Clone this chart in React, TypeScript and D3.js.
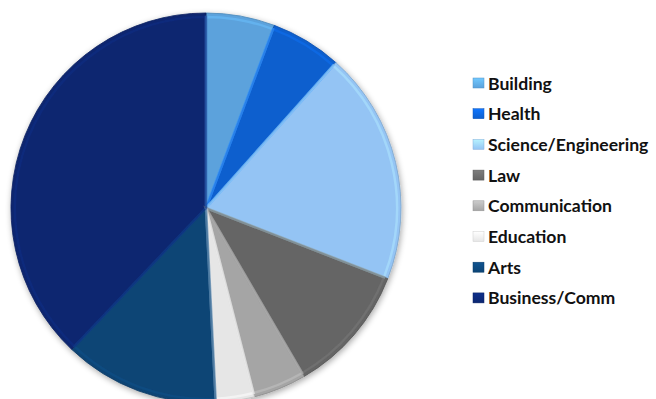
import React from "react";
import * as d3 from "d3";

const categories = ["Building", "Health", "Science/Engineering", "Law", "Communication", "Education", "Arts", "Business/Comm"];
const values = [5.7, 5.9, 19.3, 10.7, 4.4, 3.2, 12.9, 37.9];
const colors = ["#5ba2dc", "#0d5fce", "#94c4f4", "#656565", "#a5a5a5", "#e6e6e6", "#0c4475", "#0b2670"];

const W = 656;
const H = 399;
const cx = 206;
const cy = 208;
const R = 195;

export default function App() {
  const pie = d3.pie<number>().sort(null).value((d) => d);
  const arcs = pie(values);
  const arc = d3.arc<d3.PieArcDatum<number>>().innerRadius(0).outerRadius(R);
  const inner = d3.arc<d3.PieArcDatum<number>>().innerRadius(0).outerRadius(R - 4);
  const legendX = 473;
  const legendY0 = 83;
  const legendStep = 30.7;
  return (
    <div style={{ position: "absolute", left: 0, top: 0 }}>
      <svg width={W} height={H} style={{ display: "block", background: "#fff" }}>
        <defs>
          <filter id="shadow" x="-10%" y="-10%" width="120%" height="120%">
            <feGaussianBlur in="SourceAlpha" stdDeviation="3" />
            <feOffset dx="1" dy="2" result="b" />
            <feComponentTransfer>
              <feFuncA type="linear" slope="0.35" />
            </feComponentTransfer>
            <feMerge>
              <feMergeNode />
              <feMergeNode in="SourceGraphic" />
            </feMerge>
          </filter>
          {colors.map((c, i) => (
            <linearGradient key={i} id={`lg${i}`} x1="0" y1="0" x2="0" y2="1">
              <stop offset="0" stopColor={d3.color(c)!.brighter(0.6).formatHex()} />
              <stop offset="1" stopColor={c} />
            </linearGradient>
          ))}
        </defs>
        <g transform={`translate(${cx},${cy})`} filter="url(#shadow)">
          {arcs.map((a, i) => (
            <path key={i} d={arc(a) || ""} fill={colors[i]} stroke={d3.color(colors[i])!.darker(0.5).formatHex()} strokeWidth={0.8} />
          ))}
          {arcs.map((a, i) => (
            <path key={"h" + i} d={inner(a) || ""} fill="none" stroke={d3.color(colors[i])!.brighter(0.5).formatHex()} strokeOpacity={0.5} strokeWidth={2.5} />
          ))}
        </g>
        <g fontFamily="Lato, 'Open Sans', sans-serif" fontWeight="bold" fontSize={17.6} fill="#111">
          {categories.map((c, i) => {
            const y = legendY0 + i * legendStep;
            return (
              <g key={c}>
                <rect x={legendX} y={y - 5} width={11} height={10} fill={`url(#lg${i})`} stroke={d3.color(colors[i])!.darker(0.3).formatHex()} strokeWidth={0.5} />
                <text x={legendX + 15} y={y} dominantBaseline="central">{c}</text>
              </g>
            );
          })}
        </g>
      </svg>
    </div>
  );
}
